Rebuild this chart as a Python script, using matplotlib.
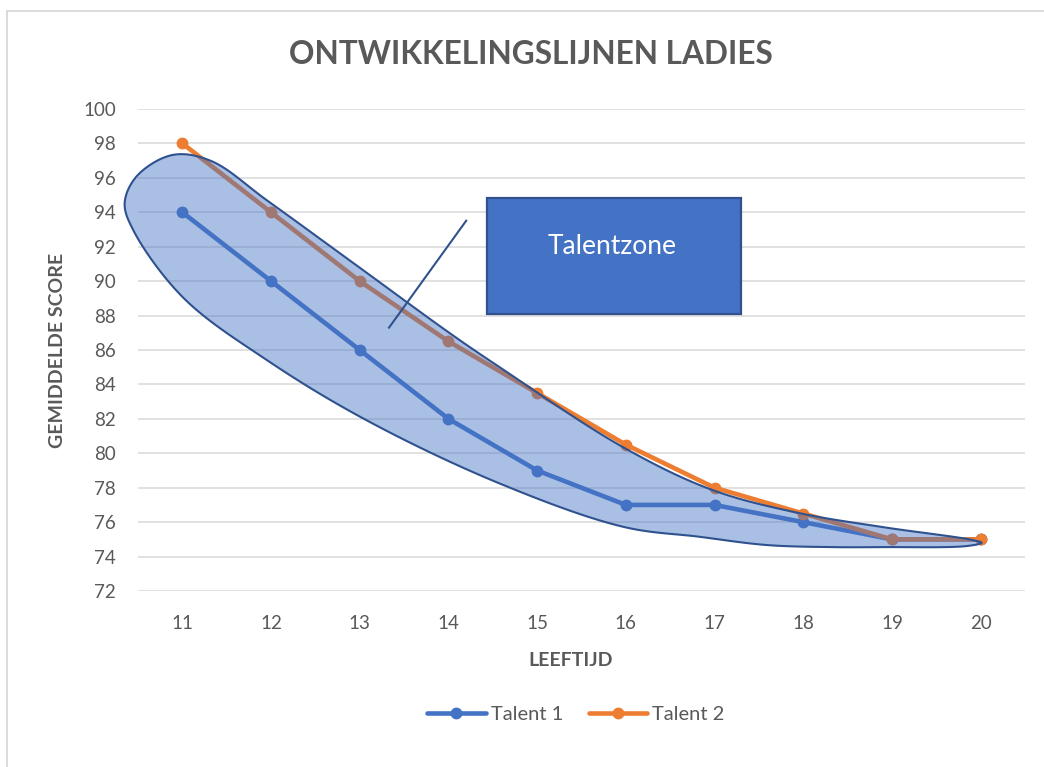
import numpy as np
import matplotlib
matplotlib.use("Agg")
import matplotlib.pyplot as plt
from matplotlib.patches import Polygon, Rectangle
from matplotlib.lines import Line2D

# ---- data ----
ages = [11, 12, 13, 14, 15, 16, 17, 18, 19, 20]
talent1 = [94, 90, 86, 82, 79, 77, 77, 76, 75, 75]
talent2 = [98, 94, 90, 86.5, 83.5, 80.5, 78, 76.5, 75, 75]
yticks = list(range(72, 101, 2))
title = "ONTWIKKELINGSLIJNEN LADIES"
xlabel = "LEEFTIJD"
ylabel = "GEMIDDELDE SCORE"
series_names = ["Talent 1", "Talent 2"]
zone_label = "Talentzone"

# outline of the hand-drawn "talent zone" shape (age, score)
zone_x = [10.35, 10.49, 10.89, 11.32, 11.96, 13.0, 14.02, 14.58, 15.97, 16.98,
          17.96, 18.90, 19.91, 20.01, 19.84, 18.90, 18.33, 17.59, 16.83, 15.97,
          14.58, 13.08, 11.96, 11.01, 10.45]
zone_y = [94.55, 96.12, 97.33, 96.99, 94.67, 90.78, 86.96, 84.99, 80.35, 77.86,
          76.52, 75.71, 74.96, 74.80, 74.61, 74.55, 74.55, 74.67, 75.15, 75.73,
          78.24, 81.91, 85.39, 89.04, 92.93]

BLUE = "#4472C4"
ORANGE = "#ED7D31"
DARK = "#2F528F"
GRAY = "#595959"
FONT = ["Lato", "DejaVu Sans"]

W, H = 1044, 767
fig = plt.figure(figsize=(W / 100, H / 100), dpi=100)
plt.rcParams["font.family"] = FONT

ax = fig.add_axes([138 / W, 176 / H, 887 / W, 482 / H])
ax.set_xlim(10.5, 20.5)
ax.set_ylim(72, 100)
ax.set_xticks(ages)
ax.set_xticklabels([str(a) for a in ages])
ax.set_yticks(yticks)
ax.grid(axis="y", color="#D9D9D9", lw=1.1, zorder=0)
ax.set_axisbelow(True)
for s in ax.spines.values():
    s.set_visible(False)
ax.tick_params(length=0, colors=GRAY, labelsize=13.5)
ax.tick_params(axis="x", pad=17)
ax.tick_params(axis="y", pad=16)

l1, = ax.plot(ages, talent1, color=BLUE, lw=3.3, marker="o", ms=7.5,
              solid_capstyle="round", zorder=2, label=series_names[0])
l2, = ax.plot(ages, talent2, color=ORANGE, lw=3.3, marker="o", ms=7.5,
              solid_capstyle="round", zorder=2.1, label=series_names[1])


# closed centripetal Catmull-Rom in pixel-like space
def closed_catmull(px, py, n=40, alpha=0.5):
    P = np.column_stack([px, py])
    N = len(P)
    out = []
    for i in range(N):
        p0, p1, p2, p3 = P[(i - 1) % N], P[i], P[(i + 1) % N], P[(i + 2) % N]

        def tj(ti, a, b):
            return ti + max(np.linalg.norm(b - a), 1e-6) ** alpha
        t0 = 0.0
        t1 = tj(t0, p0, p1)
        t2 = tj(t1, p1, p2)
        t3 = tj(t2, p2, p3)
        t = np.linspace(t1, t2, n, endpoint=False)[:, None]
        A1 = (t1 - t) / (t1 - t0) * p0 + (t - t0) / (t1 - t0) * p1
        A2 = (t2 - t) / (t2 - t1) * p1 + (t - t1) / (t2 - t1) * p2
        A3 = (t3 - t) / (t3 - t2) * p2 + (t - t2) / (t3 - t2) * p3
        B1 = (t2 - t) / (t2 - t0) * A1 + (t - t0) / (t2 - t0) * A2
        B2 = (t3 - t) / (t3 - t1) * A2 + (t - t1) / (t3 - t1) * A3
        C = (t2 - t) / (t2 - t1) * B1 + (t - t1) / (t2 - t1) * B2
        out.append(C)
    return np.vstack(out)


sx, sy = 88.7, 17.2
pts = closed_catmull(np.array(zone_x) * sx, np.array(zone_y) * sy)
pts[:, 0] /= sx
pts[:, 1] /= sy
ax.add_patch(Polygon(pts, closed=True, facecolor=(68 / 255, 114 / 255, 196 / 255, 0.45),
                     edgecolor=DARK, lw=1.5, zorder=3, clip_on=False))

# callout line and box
ax.add_line(Line2D([14.2, 13.33], [93.51, 87.30], color=DARK, lw=1.5, zorder=4))
ax.add_patch(Rectangle((14.435, 88.12), 2.862, 6.72, facecolor=BLUE,
                       edgecolor=DARK, lw=1.6, zorder=4))
ax.text(15.84, 92.0, zone_label, color="white", fontsize=19,
        ha="center", va="center", zorder=5)

# texts
fig.text(531 / W, 1 - 55 / H, title, ha="center", va="center", color=GRAY,
         fontsize=22.8, fontweight="bold")
fig.text(571 / W, 1 - 661 / H, xlabel, ha="center", va="center", color=GRAY,
         fontsize=14, fontweight="bold")
fig.text(58 / W, 1 - 350 / H, ylabel, ha="center", va="center", color=GRAY,
         fontsize=14, fontweight="bold", rotation=90)

leg = fig.legend(handles=[l1, l2], loc="center", bbox_to_anchor=(576 / W, 1 - 714 / H),
                 ncol=2, frameon=False, fontsize=14.5, handlelength=2.9,
                 handletextpad=0.25, columnspacing=1.3, labelcolor=GRAY)

# chart border (left and top visible)
fig.add_artist(Line2D([7 / W, 7 / W], [0, 1 - 11 / H], color="#D9D9D9", lw=1.3,
                      transform=fig.transFigure))
fig.add_artist(Line2D([7 / W, 1], [1 - 11 / H, 1 - 11 / H], color="#D9D9D9", lw=1.3,
                      transform=fig.transFigure))

fig.savefig("out.png", dpi=100)
